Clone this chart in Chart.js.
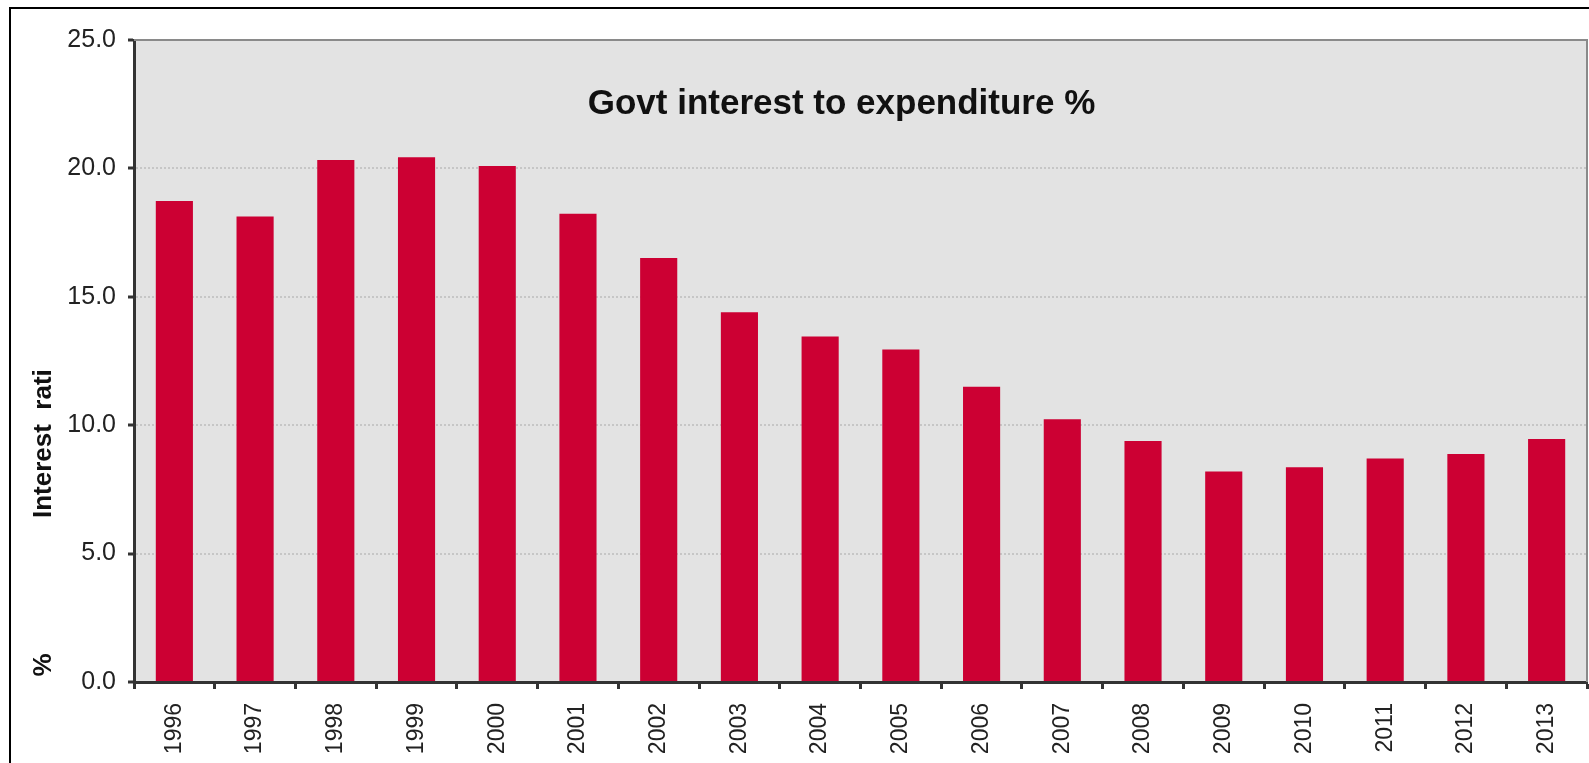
<!DOCTYPE html>
<html>
<head>
<meta charset="utf-8">
<script src="https://cdn.jsdelivr.net/npm/chart.js@4/dist/chart.umd.min.js"></script>
<style>
  html, body { margin: 0; padding: 0; background: #fff; }
  canvas { display: block; }
</style>
</head>
<body>
<canvas id="ratio-chart" width="1589" height="763"></canvas>
<script>
// --- data ---
const years = ['1996', '1997', '1998', '1999', '2000', '2001', '2002', '2003', '2004',
               '2005', '2006', '2007', '2008', '2009', '2010', '2011', '2012', '2013'];
const interestRatio = [18.73, 18.13, 20.33, 20.43, 20.09, 18.23, 16.51, 14.40, 13.45,
                       12.95, 11.50, 10.23, 9.38, 8.20, 8.36, 8.70, 8.88, 9.46];
const yMin = 0;
const yMax = 25;
const yStep = 5;

const chartTitle = 'Govt interest to expenditure %';
const yTitleUnit = '%';
const yTitleText = 'Interest  rati';

const FONT = '"Liberation Sans", Arial, sans-serif';

// plot background, frame lines and the in-plot title
const framePlugin = {
    id: 'frame',
    beforeDraw(chart) {
        const { ctx, chartArea: a, width, height } = chart;
        ctx.save();
        ctx.fillStyle = '#ffffff';
        ctx.fillRect(0, 0, width, height);
        ctx.fillStyle = '#e3e3e3';
        ctx.fillRect(a.left, a.top, a.right - a.left, a.bottom - a.top);

        // outer frame (left + top edges)
        ctx.strokeStyle = '#000000';
        ctx.lineWidth = 2;
        ctx.beginPath();
        ctx.moveTo(10, height);
        ctx.lineTo(10, 8);
        ctx.lineTo(width, 8);
        ctx.stroke();
        ctx.restore();
    },
    afterDraw(chart) {
        const { ctx, chartArea: a } = chart;
        ctx.save();
        // top and right edges of the plot area
        ctx.strokeStyle = '#8a8a8a';
        ctx.lineWidth = 2;
        ctx.beginPath();
        ctx.moveTo(a.left, a.top);
        ctx.lineTo(a.right, a.top);
        ctx.lineTo(a.right, a.bottom);
        ctx.stroke();

        // title inside the plot
        ctx.fillStyle = '#111111';
        ctx.font = 'bold 35px ' + FONT;
        ctx.textAlign = 'center';
        ctx.textBaseline = 'middle';
        ctx.fillText(chartTitle, (a.left + a.right) / 2 - 19, a.top + 64);

        // y axis title, split in two pieces
        ctx.font = 'bold 26px ' + FONT;
        ctx.translate(44, 0);
        ctx.rotate(-Math.PI / 2);
        ctx.textAlign = 'center';
        ctx.fillText(yTitleUnit, -665, 0);
        ctx.textAlign = 'left';
        ctx.fillText(yTitleText, -518, 0);
        ctx.restore();
    }
};

new Chart(document.getElementById('ratio-chart'), {
    type: 'bar',
    data: {
        labels: years,
        datasets: [{
            data: interestRatio,
            backgroundColor: '#cc0033',
            borderWidth: 0,
            barPercentage: 0.46,
            categoryPercentage: 1
        }]
    },
    options: {
        responsive: false,
        animation: false,
        layout: { padding: { left: 0, top: 40, right: 2, bottom: 0 } },
        plugins: {
            legend: { display: false },
            tooltip: { enabled: false },
            title: { display: false }
        },
        scales: {
            x: {
                offset: true,
                grid: {
                    offset: true,
                    drawOnChartArea: false,
                    tickLength: 7,
                    tickColor: '#333333',
                    tickWidth: 3
                },
                border: { color: '#333333', width: 3 },
                ticks: {
                    minRotation: 90,
                    maxRotation: 90,
                    padding: 14,
                    color: '#222222',
                    font: { family: FONT, size: 23 }
                },
                afterFit(scale) { scale.height = 81; }
            },
            y: {
                min: yMin,
                max: yMax,
                ticks: {
                    stepSize: yStep,
                    padding: 12,
                    color: '#222222',
                    font: { family: FONT, size: 25 },
                    callback: v => v.toFixed(1)
                },
                grid: {
                    color: c => (c.tick && (c.tick.value === yMin || c.tick.value === yMax)) ? 'rgba(0,0,0,0)' : '#c6c6c6',
                    lineWidth: 2,
                    tickLength: 6,
                    tickColor: '#333333',
                    tickWidth: 3,
                    tickBorderDash: []
                },
                border: { color: '#333333', width: 3, dash: [2, 2] },
                afterFit(scale) { scale.width = 134; }
            }
        }
    },
    plugins: [framePlugin]
});
</script>
</body>
</html>
